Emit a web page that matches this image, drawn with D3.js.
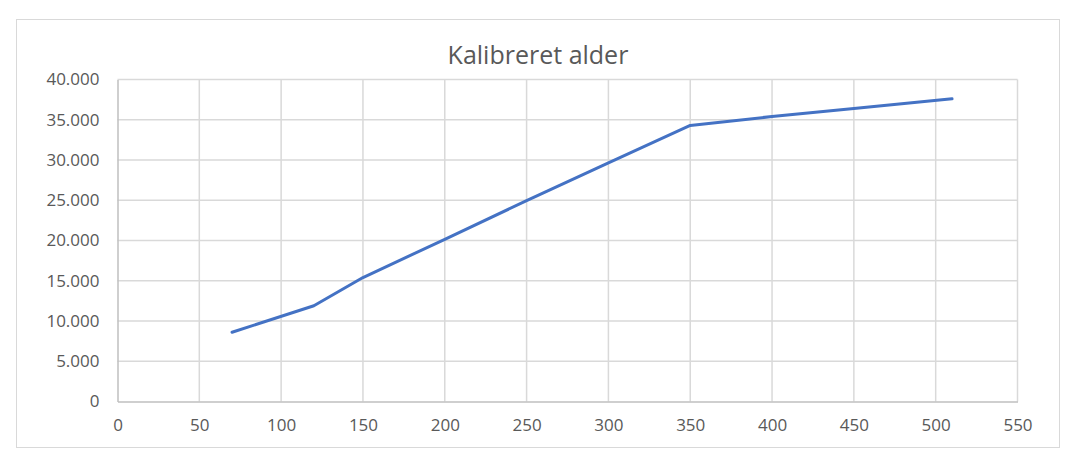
<!DOCTYPE html>
<html>
<head>
<meta charset="utf-8">
<script src="https://cdn.jsdelivr.net/npm/d3@7"></script>
<style>
  html, body { margin: 0; padding: 0; background: #fff; }
  svg { display: block; }
  text { font-family: "Open Sans", "Noto Sans", sans-serif; fill: #595959; }
</style>
</head>
<body>
<svg id="chart" width="1074" height="474"></svg>
<script>
const title = "Kalibreret alder";
const xValues = [70, 120, 150, 200, 250, 300, 350, 400, 450, 510];
const yValues = [8600, 11900, 15400, 20150, 24950, 29650, 34300, 35400, 36400, 37600];
const xTicks = [0, 50, 100, 150, 200, 250, 300, 350, 400, 450, 500, 550];
const yTicks = [0, 5000, 10000, 15000, 20000, 25000, 30000, 35000, 40000];

const svg = d3.select("#chart");
const W = 1074, H = 474;
const plot = { left: 117.5, right: 1017.5, top: 79.5, bottom: 401.5 };

// chart border
svg.append("rect")
  .attr("x", 16.5).attr("y", 19.5)
  .attr("width", 1043).attr("height", 428)
  .attr("fill", "#fff").attr("stroke", "#d9d9d9").attr("stroke-width", 1);

const x = d3.scaleLinear().domain([0, 550]).range([plot.left, plot.right]);
const y = d3.scaleLinear().domain([0, 40000]).range([plot.bottom, plot.top]);

const fmt = d => d3.format(",")(d).replace(/,/g, ".");

// gridlines
svg.append("g")
  .selectAll("line.v").data(xTicks.slice(1)).join("line")
  .attr("x1", d => x(d)).attr("x2", d => x(d))
  .attr("y1", plot.top).attr("y2", plot.bottom)
  .attr("stroke", "#d9d9d9").attr("stroke-width", 1.5);
svg.append("g")
  .selectAll("line.h").data(yTicks.slice(1)).join("line")
  .attr("x1", plot.left).attr("x2", plot.right)
  .attr("y1", d => y(d)).attr("y2", d => y(d))
  .attr("stroke", "#d9d9d9").attr("stroke-width", 1.5);

// axes
const xAxis = d3.axisBottom(x).tickValues(xTicks).tickSize(0).tickPadding(17).tickFormat(fmt);
const yAxis = d3.axisLeft(y).tickValues(yTicks).tickSize(0).tickPadding(18).tickFormat(fmt);

const gx = svg.append("g").attr("transform", `translate(0,${plot.bottom})`).call(xAxis);
const gy = svg.append("g").attr("transform", `translate(${plot.left},0)`).call(yAxis);
[gx, gy].forEach(g => {
  g.select(".domain").attr("stroke", "#bfbfbf").attr("stroke-width", 1.5);
  g.selectAll("text").attr("font-size", 17).attr("fill", "#595959")
    .style("font-family", '"Open Sans", sans-serif');
});

// line
const data = xValues.map((v, i) => [v, yValues[i]]);
svg.append("path")
  .datum(data)
  .attr("fill", "none")
  .attr("stroke", "#4472C4")
  .attr("stroke-width", 3)
  .attr("stroke-linejoin", "round")
  .attr("stroke-linecap", "round")
  .attr("d", d3.line().x(d => x(d[0])).y(d => y(d[1])));

// title
svg.append("text")
  .attr("x", 538).attr("y", 64)
  .attr("text-anchor", "middle")
  .attr("font-size", 25)
  .attr("fill", "#595959")
  .text(title);
</script>
</body>
</html>
